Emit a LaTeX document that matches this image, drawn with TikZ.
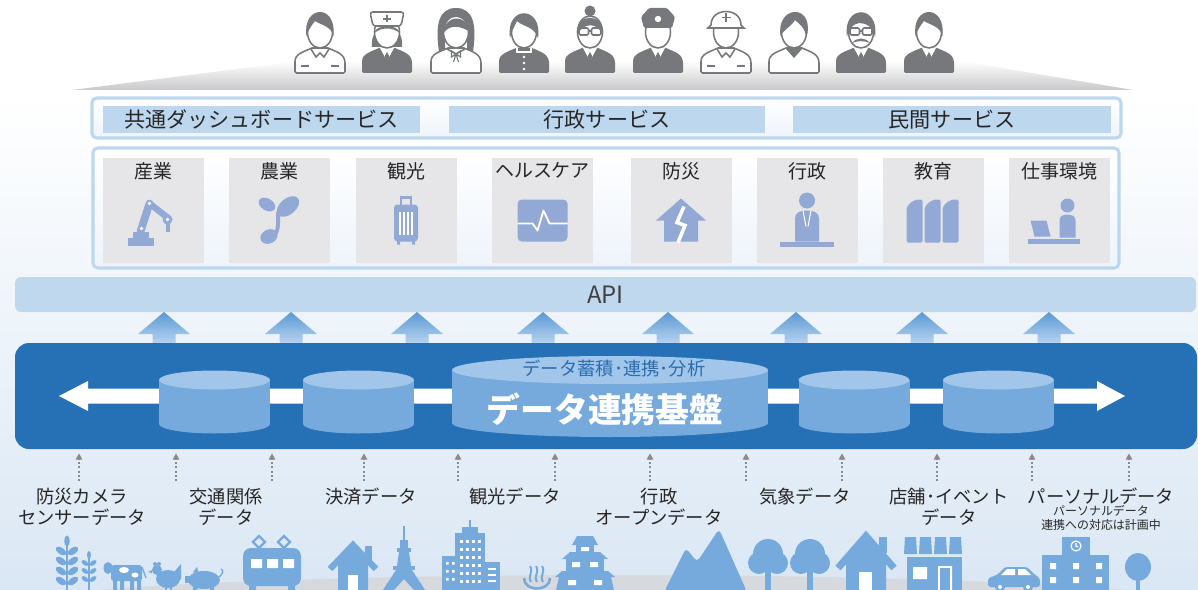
\documentclass[tikz,border=0pt]{standalone}
\usepackage{fontspec}
\setmainfont{Noto Sans CJK JP}
\usetikzlibrary{positioning, calc, arrows.meta}

\definecolor{txt}{HTML}{262626}
\definecolor{bgblue}{HTML}{DAE7F4}
\definecolor{boxtint}{HTML}{EEF4FB}
\definecolor{frameblue}{HTML}{BDD7EE}
\definecolor{barblue}{HTML}{BDD7EE}
\definecolor{tilegray}{HTML}{E6E6E9}
\definecolor{iconblue}{HTML}{93A9D5}
\definecolor{apiblue}{HTML}{BFD8EE}
\definecolor{apitext}{HTML}{404040}
\definecolor{platblue}{HTML}{2671B6}
\definecolor{cylside}{HTML}{76A9DC}
\definecolor{cyllid}{HTML}{A2C6E9}
\definecolor{cyltext}{HTML}{2A6CB0}
\definecolor{arrowtop}{HTML}{5B9AD5}
\definecolor{arrowbot}{HTML}{B6D2EE}
\definecolor{silblue}{HTML}{77AADC}
\definecolor{ground}{HTML}{D6D9DD}
\definecolor{ppl}{HTML}{77787B}
\definecolor{fangray}{HTML}{C9C9CB}
\definecolor{dotgray}{HTML}{8A8A8A}

\newlength\px
\setlength\px{0.25mm}

\begin{document}
\begin{tikzpicture}[
  x=0.25mm, y=-0.25mm,
  >=Latex,
  every node/.style={text=txt},
  outerbox/.style={draw=frameblue, line width=2.2pt, rounded corners=1.2mm, top color=white, bottom color=boxtint},
  svcbar/.style={fill=barblue, minimum height=27\px, inner sep=0pt, font=\fontsize{15}{17}\selectfont},
  tile/.style={fill=tilegray, minimum width=101\px, minimum height=105\px, inner sep=0pt},
  tilelabel/.style={font=\fontsize{13.5}{15}\selectfont},
  apibar/.style={fill=apiblue, rounded corners=1.5mm, minimum width=1181\px, minimum height=35\px, text=apitext, font=\fontsize{17}{19}\selectfont},
  platform/.style={fill=platblue, rounded corners=3.5mm, minimum width=1182\px, minimum height=106\px},
  uparrow/.style={top color=arrowtop, bottom color=arrowbot},
  dotarrow/.style={dotgray, line width=1.4pt, dash pattern=on 1.4pt off 1.6pt, shorten >=1mm, -{Triangle[length=4.5pt, width=4.5pt]}},
  srclabel/.style={anchor=north, align=center, inner sep=0pt, font=\fontsize{13}{15}\selectfont},
  sublabel/.style={anchor=north, align=center, inner sep=0pt, font=\fontsize{8.5}{10}\selectfont},
  sil/.style={fill=silblue},
  pplline/.style={draw=ppl, line width=1.1pt},
  % people parts
  pics/torso/.style={code={
    \path[#1] (-25,0) [rounded corners=1pt] -- (-25,-10) [sharp corners] .. controls (-25,-19) and (-17,-21) .. (-8,-25)
      -- (8,-25) .. controls (17,-21) and (25,-19) .. (25,-10) [rounded corners=1pt] -- (25,0) -- cycle;
  }},
  pics/shirt/.style={code={
    \fill[white] (-7,-25) -- (0,-12) -- (7,-25) -- cycle;
    \fill[ppl] (0,-21) -- (-2.2,-17) -- (0,-8) -- (2.2,-17) -- cycle;
  }},
  pics/face/.style={code={
    \draw[pplline, fill=white] (0,-41) ellipse [x radius=12.5, y radius=16];
  }},
  pics/hair/.style={code={
    \fill[ppl] (-13.5,-37) .. controls (-18,-68) and (17,-70) .. (13.5,-37) .. controls (11,-47) and (1,-48) .. (-5,-52)
      .. controls (-9,-47) and (-12,-42) .. (-13.5,-37) -- cycle;
  }},
  pics/glasses/.style={code={
    \draw[pplline, rounded corners=1pt] (-11,-45) rectangle (-1.5,-38) (1.5,-45) rectangle (11,-38) (-1.5,-42) -- (1.5,-42);
  }},
  % domain icons
  pics/robot/.style={code={
    \fill[iconblue] (-26,17) rectangle (0,25);
    \fill[iconblue] (-21,11) rectangle (-5,17);
    \draw[iconblue, line width=5.5pt, line cap=round] (-13,11) -- (-4,-17);
    \draw[iconblue, line width=4.5pt, line cap=round] (-4,-17) -- (14,-3);
    \fill[iconblue] (14,-1) circle [radius=5];
    \fill[iconblue] (12,3) rectangle (16,11);
    \fill[white] (-4,-17) circle [radius=1.8] (14,-1) circle [radius=1.8] (-12,8) circle [radius=1.8];
  }},
  pics/sprout/.style={code={
    \fill[iconblue, rotate around={-30:(-12,-16)}] (-12,-16) ellipse [x radius=9, y radius=6];
    \fill[iconblue, rotate around={40:(9,-14)}] (9,-14) ellipse [x radius=13, y radius=8];
    \draw[iconblue, line width=2.8pt] (-1,-9) .. controls (-1,0) and (0,6) .. (-3,13);
    \fill[iconblue, rotate around={25:(-10,16)}] (-10,16) ellipse [x radius=9, y radius=7];
  }},
  pics/suitcase/.style={code={
    \draw[iconblue, line width=1.6pt] (-5,-16) -- (-5,-23) -- (5,-23) -- (5,-16);
    \fill[iconblue, rounded corners=2.5pt] (-12,-16) rectangle (12,21);
    \draw[white, line width=0.8pt] (-6,-9) -- (-6,14) (-2,-9) -- (-2,14) (2,-9) -- (2,14) (6,-9) -- (6,14);
    \fill[iconblue] (-9,20) rectangle (-6,24) (6,20) rectangle (9,24);
  }},
  pics/monitor/.style={code={
    \fill[iconblue, rounded corners=3pt] (-25,-21) rectangle (25,21);
    \draw[white, line width=1.3pt, line join=round] (-25,3) -- (-10,3) -- (-5,10) -- (1,-10) -- (7,3) -- (25,3);
  }},
  pics/crackhouse/.style={code={
    \fill[iconblue] (-25,0) -- (0,-22) -- (25,0) -- (17,0) -- (17,21) -- (-17,21) -- (-17,0) -- cycle;
    \draw[white, line width=2.5pt] (3,-14) -- (-4,2) -- (4,5) -- (-3,22);
  }},
  pics/official/.style={code={
    \fill[iconblue] (0,-20) circle [radius=8];
    \fill[iconblue] (-12,21) -- (-12,-2) .. controls (-12,-8) and (-7,-10) .. (0,-10) .. controls (7,-10) and (12,-8) .. (12,-2) -- (12,21) -- cycle;
    \draw[white, line width=0.7pt] (-4,-10) -- (-1,6) (4,-10) -- (1,6);
    \fill[iconblue] (-27,21) rectangle (27,26);
  }},
  pics/books/.style={code={
    \foreach \a in {-27,-9,9}
      \fill[iconblue, rounded corners=1pt] (\a,22) -- (\a,-9) .. controls (\a,-15) and (\a+5,-20) .. (\a+12,-21) -- (\a+16,-21) -- (\a+16,22) -- cycle;
  }},
  pics/laptopuser/.style={code={
    \fill[iconblue] (8,-15) circle [radius=7];
    \fill[iconblue] (0,17) -- (0,0) .. controls (0,-4) and (3,-6) .. (8,-6) .. controls (13,-6) and (16,-4) .. (16,0) -- (16,17) -- cycle;
    \fill[iconblue] (-29,0) -- (-13,0) -- (-9,16) -- (-25,16) -- cycle;
    \fill[iconblue] (-32,18) rectangle (20,23);
  }}
]

\useasboundingbox (0,0) rectangle (1198,590);
\fill[white] (0,0) rectangle (1198,590);
\shade[top color=white, bottom color=bgblue] (0,95) rectangle (1198,590);

%------------------------------------------------
% People
%------------------------------------------------
\shade[top color=white, bottom color=fangray] (72,90) -- (300,61) -- (960,61) -- (1133,90) -- cycle;

% polo shirt
\begin{scope}[shift={(320,73)}]
  \pic at (0,0) {torso={draw=ppl, fill=white, line width=1.1pt}};
  \draw[pplline] (-9,-24) -- (-4,-16) -- (0,-20) -- (4,-16) -- (9,-24);
  \draw[pplline] (-19,-7) -- (-11,-7) (11,-7) -- (19,-7);
  \pic at (0,0) {face};
  \pic at (0,0) {hair};
\end{scope}

% nurse
\begin{scope}[shift={(387,73)}]
  \pic at (0,0) {torso={fill=ppl}};
  \pic at (0,0) {shirt};
  \fill[ppl] (-15,-26) .. controls (-18,-53) and (18,-53) .. (15,-26) -- cycle;
  \pic at (0,0) {face};
  \fill[ppl] (-12.5,-40) .. controls (-12,-49) and (12,-49) .. (12.5,-40) .. controls (6,-46) and (-6,-46) .. (-12.5,-40) -- cycle;
  \draw[pplline, fill=white, rounded corners=2pt] (-14,-47) -- (-17,-61) -- (17,-61) -- (14,-47) -- cycle;
  \draw[ppl, line width=1.5pt] (0,-58) -- (0,-50.5) (-3.7,-54.3) -- (3.7,-54.3);
\end{scope}

% girl
\begin{scope}[shift={(456,73)}]
  \pic at (0,0) {torso={draw=ppl, fill=white, line width=1.1pt}};
  \fill[ppl] (-17,-21) .. controls (-21,-49) and (-17,-65) .. (0,-65) .. controls (17,-65) and (21,-49) .. (17,-21)
    -- (11,-23) -- (11,-32) -- (-11,-32) -- (-11,-23) -- cycle;
  \pic at (0,0) {face};
  \fill[ppl] (-12.5,-40) .. controls (-12,-58) and (11,-60) .. (12.5,-42) .. controls (4,-47) and (-6,-49) .. (-12.5,-40) -- cycle;
  \draw[pplline] (-9,-24) -- (0,-19) -- (9,-24);
  \draw[ppl, line width=0.8pt] (0,-19) -- (-4.5,-22) -- (-4.5,-16) -- cycle (0,-19) -- (4.5,-22) -- (4.5,-16) -- cycle
    (0,-19) -- (-2.5,-11) (0,-19) -- (2.5,-11);
\end{scope}

% student
\begin{scope}[shift={(524,73)}]
  \pic at (0,0) {torso={fill=ppl}};
  \draw[white, line width=0.9pt] (-7,-25) -- (-7,-21) -- (7,-21) -- (7,-25);
  \fill[white] (0,-16) circle [radius=1.3] (0,-10) circle [radius=1.3] (0,-4) circle [radius=1.3];
  \pic at (0,0) {face};
  \fill[ppl] (-14,-35) .. controls (-19,-68) and (19,-68) .. (14,-35) .. controls (10,-47) and (-1,-46) .. (-7,-52)
    .. controls (-10,-46) and (-13,-40) .. (-14,-35) -- cycle;
\end{scope}

% woman with glasses
\begin{scope}[shift={(590,73)}]
  \pic at (0,0) {torso={fill=ppl}};
  \pic at (0,0) {shirt};
  \pic at (0,0) {face};
  \fill[ppl] (0,-62) circle [radius=5.5];
  \fill[ppl] (-13,-38) .. controls (-15,-61) and (15,-61) .. (13,-38) .. controls (7,-51) and (-6,-51) .. (-13,-38) -- cycle;
  \pic at (0,0) {glasses};
\end{scope}

% police officer
\begin{scope}[shift={(658,73)}]
  \pic at (0,0) {torso={fill=ppl}};
  \pic at (0,0) {shirt};
  \pic at (0,0) {face};
  \fill[ppl, rounded corners=1pt] (-14,-45) -- (-17,-56) -- (-9,-65) -- (9,-65) -- (17,-56) -- (14,-45) -- cycle;
  \fill[white] (0,-54) circle [radius=3.2];
\end{scope}

% worker with helmet
\begin{scope}[shift={(726,73)}]
  \pic at (0,0) {torso={draw=ppl, fill=white, line width=1.1pt}};
  \draw[pplline] (-9,-24) -- (-4,-16) -- (0,-20) -- (4,-16) -- (9,-24);
  \draw[pplline] (-19,-7) -- (-11,-7) (11,-7) -- (19,-7);
  \pic at (0,0) {face};
  \draw[pplline, fill=white] (-18,-45) -- (18,-45) -- (15,-48) .. controls (15,-66) and (-15,-66) .. (-15,-48) -- cycle;
  \draw[ppl, line width=1.4pt] (0,-60) -- (0,-51) (-4.5,-55.5) -- (4.5,-55.5);
\end{scope}

% young man
\begin{scope}[shift={(794,73)}]
  \pic at (0,0) {torso={draw=ppl, fill=white, line width=1.1pt}};
  \fill[ppl] (-8,-24) -- (0,-15) -- (8,-24) -- cycle;
  \pic at (0,0) {face};
  \fill[ppl] (-13.5,-37) .. controls (-18,-67) and (18,-70) .. (13.5,-40) -- (12,-36) .. controls (11,-46) and (5,-49) .. (1,-53)
    .. controls (-3,-46) and (-10,-44) .. (-13.5,-37) -- cycle;
\end{scope}

% man with moustache
\begin{scope}[shift={(861,73)}]
  \pic at (0,0) {torso={fill=ppl}};
  \pic at (0,0) {shirt};
  \pic at (0,0) {face};
  \fill[ppl] (-14,-36) .. controls (-19,-69) and (19,-69) .. (14,-36) .. controls (12,-47) and (4,-50) .. (-2,-50)
    .. controls (-8,-49) and (-13,-44) .. (-14,-36) -- cycle;
  \pic at (0,0) {glasses};
  \fill[ppl] (-9,-30) .. controls (-4,-36) and (4,-36) .. (9,-30) .. controls (3,-32.5) and (-3,-32.5) .. (-9,-30) -- cycle;
\end{scope}

% businessman
\begin{scope}[shift={(929,73)}]
  \pic at (0,0) {torso={fill=ppl}};
  \pic at (0,0) {shirt};
  \pic at (0,0) {face};
  \pic at (0,0) {hair};
\end{scope}

%------------------------------------------------
% Services
%------------------------------------------------
\node[outerbox, minimum width=1029\px, minimum height=40\px] (svcframe) at (606.5,118) {};
\node[svcbar, minimum width=317\px] (svc_common) at (261.5,119.5) {共通ダッシュボードサービス};
\node[svcbar, minimum width=316\px] (svc_gov) at (607,119.5) {行政サービス};
\node[svcbar, minimum width=318\px] (svc_private) at (952,119.5) {民間サービス};

%------------------------------------------------
% Domains
%------------------------------------------------
\node[outerbox, minimum width=1026\px, minimum height=120\px] (domframe) at (606,208) {};
\foreach \cx/\lbl/\ico [count=\i] in {153.5/産業/robot, 279/農業/sprout, 406/観光/suitcase, 542.5/ヘルスケア/monitor,
    681/防災/crackhouse, 807/行政/official, 933.5/教育/books, 1059.5/仕事環境/laptopuser} {
  \node[tile] (tile\i) at (\cx,210.5) {};
  \node[tilelabel, below=0pt of tile\i.north] (tile\i_lbl) {\lbl};
  \pic at ($(tile\i.center)+(0,10)$) {\ico};
}

%------------------------------------------------
% API
%------------------------------------------------
\node[apibar] (api) at (605.5,294.5) {API};

\foreach \x in {164,291,417,543,668,796,922,1049}
  \shade[uparrow] (\x,312) -- (\x+26,334) -- (\x+11.5,334) -- (\x+11.5,343) -- (\x-11.5,343) -- (\x-11.5,334) -- (\x-26,334) -- cycle;

%------------------------------------------------
% Data platform
%------------------------------------------------
\node[platform] (platform) at (606,396) {};

% data flow
\fill[white] (59,396) -- (88,381) -- (88,388.5) -- (1097,388.5) -- (1097,381) -- (1125,396) -- (1097,411)
  -- (1097,403.5) -- (88,403.5) -- (88,411) -- cycle;

% stores
\foreach \cx in {214.5,358.5,854,998.5} {
  \fill[cylside] (\cx-55.5,380) rectangle (\cx+55.5,424);
  \fill[cylside] (\cx,424) ellipse [x radius=55.5, y radius=9.5];
  \fill[cyllid] (\cx,380) ellipse [x radius=55.5, y radius=9.5];
}
\fill[cylside] (452,370) rectangle (768,423);
\fill[cylside] (610,423) ellipse [x radius=158, y radius=14];
\fill[cyllid] (610,370) ellipse [x radius=158, y radius=14];
\node[text=cyltext, font=\fontsize{13}{15}\selectfont] (hub_sub) at (614,368) {データ蓄積･連携･分析};
\node[text=white, font=\bfseries\fontsize{24}{26}\selectfont] (hub) at (605,409) {データ連携基盤};

%------------------------------------------------
% Data sources
%------------------------------------------------
\foreach \x [count=\i] in {79,176,272,364,458,555,650,746,842,937,1032,1129} {
  \coordinate (feed\i) at (\x,481);
  \draw[dotarrow] (feed\i) -- (feed\i |- platform.south);
}

\foreach \cx/\txt [count=\i] in {82/{防災カメラ\\センサーデータ}, 226/{交通関係\\データ}, 371/決済データ, 515/観光データ,
    659/{行政\\オープンデータ}, 805/気象データ, 949/{店舗･イベント\\データ}, 1101/パーソナルデータ}
  \node[srclabel] (src\i) at (\cx,488) {\txt};
\node[sublabel, below=0pt of src8] (src8_note) {パーソナルデータ\\連携への対応は計画中};

%------------------------------------------------
% Town
%------------------------------------------------
\fill[ground] (612,606) ellipse [x radius=600, y radius=31];

% wheat
\draw[silblue, line width=1.5pt] (67,542) -- (67,590) (89,556) -- (89,590);
\fill[silblue] (67,541) ellipse [x radius=2.8, y radius=5.5] (89,555) ellipse [x radius=2, y radius=4];
\foreach \y in {551,561,571,581} {
  \fill[silblue, rotate around={-35:(61,\y)}] (61,\y) ellipse [x radius=6, y radius=3.2];
  \fill[silblue, rotate around={35:(73,\y)}] (73,\y) ellipse [x radius=6, y radius=3.2];
}
\foreach \y in {563,571,579} {
  \fill[silblue, rotate around={-35:(85,\y)}] (85,\y) ellipse [x radius=4, y radius=2.2];
  \fill[silblue, rotate around={35:(93,\y)}] (93,\y) ellipse [x radius=4, y radius=2.2];
}

% cow
\fill[silblue, rounded corners=2pt] (111,565) rectangle (142,581);
\fill[silblue] (108,568) ellipse [x radius=4.5, y radius=6];
\fill[silblue] (113,580) rectangle (117,590) (120,580) rectangle (124,590) (130,580) rectangle (134,590) (137,580) rectangle (141,590);
\fill[white] (124,570) ellipse [x radius=5, y radius=3] (135,575) ellipse [x radius=3.5, y radius=2.5];
\draw[silblue, line width=1pt] (142,567) -- (146,578);

% hen
\fill[silblue] (168,579) ellipse [x radius=12, y radius=9];
\fill[silblue] (157,570) circle [radius=5];
\fill[silblue] (155,564) circle [radius=2] (159,564) circle [radius=2];
\fill[silblue] (152,570) -- (148,572) -- (152,573) -- cycle;
\fill[silblue] (174,572) -- (181,564) -- (181,580) -- cycle;
\draw[silblue, line width=1pt] (166,587) -- (166,590) (171,587) -- (171,590);

% pig
\fill[silblue] (204,580) ellipse [x radius=16, y radius=9];
\fill[silblue] (185,576) rectangle (190,583);
\fill[silblue] (193,572) -- (197,567) -- (199,574) -- cycle;
\fill[silblue] (193,585) rectangle (197,590) (210,585) rectangle (214,590);
\draw[silblue, line width=1pt] (219,577) .. controls (223,574) and (224,570) .. (221,569);

% train
\draw[silblue, line width=1.6pt] (259,536) -- (265,542) -- (259,548) -- (253,542) -- cycle
  (284,536) -- (290,542) -- (284,548) -- (278,542) -- cycle;
\fill[silblue, rounded corners=2mm] (243,548) rectangle (301,586);
\fill[white] (251,559) rectangle (262,568) (267,559) rectangle (278,568) (283,559) rectangle (294,568);
\fill[silblue] (249,584) rectangle (256,590) (288,584) rectangle (295,590);

% house
\fill[silblue] (365,546) rectangle (372,560);
\fill[silblue] (338,562) -- (353,548) -- (368,562) -- (368,590) -- (338,590) -- cycle;
\draw[silblue, line width=4.5pt] (330,569) -- (353,545) -- (376,569);
\fill[white] (348,575) rectangle (358,590);

% tower
\fill[silblue] (403,526) rectangle (405,541);
\fill[silblue] (400,540) rectangle (408,548);
\fill[silblue] (397,548) rectangle (411,552);
\fill[silblue] (399,552) -- (409,552) -- (411,566) -- (397,566) -- cycle;
\fill[silblue] (393,566) rectangle (415,570);
\fill[silblue] (396,570) -- (412,570) -- (425,590) -- (414,590) -- (404,579) -- (394,590) -- (383,590) -- cycle;

% office block
\fill[silblue] (469,520) rectangle (471,528);
\fill[silblue] (462,527) rectangle (478,534);
\fill[silblue] (455,533) rectangle (485,590);
\fill[silblue] (442,556) rectangle (458,590);
\fill[silblue] (484,562) rectangle (500,590);
\foreach \wx in {460,466,472,478}
  \foreach \wy in {540,548,556,564,572,580}
    \fill[white] (\wx,\wy) rectangle ++(2.6,2.6);
\foreach \wy in {568,574,580}
  \fill[white] (488,\wy) rectangle (496,\wy+1.5);
\foreach \wy in {562,570,578}
  \fill[white] (446,\wy) rectangle ++(2.6,2.6) (452,\wy) rectangle ++(2.6,2.6);

% hot spring
\draw[silblue, line width=1.8pt] (524,578) .. controls (524,592) and (550,592) .. (550,578);
\draw[silblue, line width=1.4pt] (531,582) .. controls (527,576) and (534,572) .. (530,566)
  (537,582) .. controls (533,576) and (540,572) .. (536,566)
  (543,582) .. controls (539,576) and (546,572) .. (542,566);

% castle
\fill[silblue] (572,545) -- (577,536) -- (593,536) -- (598,545) -- cycle;
\fill[silblue] (576,545) rectangle (594,553);
\fill[silblue] (562,559) -- (570,552) -- (600,552) -- (608,559) -- cycle;
\fill[silblue] (566,559) rectangle (604,571);
\fill[silblue] (555,577) -- (562,571) -- (608,571) -- (615,577) -- cycle;
\fill[silblue] (559,577) -- (611,577) -- (614,590) -- (556,590) -- cycle;
\fill[white] (581,547) rectangle (589,551) (572,562) rectangle (580,567) (590,562) rectangle (598,567)
  (568,580) rectangle (576,585) (594,580) rectangle (602,585);

% mountains
\fill[silblue, rounded corners=3pt] (664,592) -- (686,548) -- (697,562) -- (719,529) -- (747,592) -- cycle;

% trees
\foreach \tx in {768,810} {
  \fill[silblue] (\tx,554) circle [radius=15] (\tx-9,563) circle [radius=11] (\tx+9,563) circle [radius=11];
  \fill[silblue] (\tx-3,568) rectangle (\tx+3,590);
}

% house
\fill[silblue] (879,537) rectangle (887,553);
\fill[silblue] (846,562) -- (866,541) -- (886,562) -- (886,590) -- (846,590) -- cycle;
\draw[silblue, line width=5pt] (838,568) -- (866,536) -- (894,568);
\fill[white] (859,572) rectangle (872,590);

% shop
\foreach \s in {0,1,2,3}
  \fill[silblue] (905+\s*15,537) -- (916+\s*15,537) -- (917+\s*15,554) -- (904+\s*15,554) -- cycle;
\fill[silblue] (907,557) rectangle (962,590);
\fill[white] (913,567) rectangle (927,579) (938,566) rectangle (952,590);
\fill[silblue] (940,568) rectangle (950,590);

% car
\fill[silblue, rounded corners=2pt] (988,587) -- (988,578) -- (997,575) -- (1005,567) -- (1027,567) -- (1035,575) -- (1040,578) -- (1040,587) -- cycle;
\fill[white] (1007,569) -- (1015,569) -- (1015,575) -- (1001,575) -- cycle (1018,569) -- (1025,569) -- (1031,575) -- (1018,575) -- cycle;
\fill[silblue] (1000,587) circle [radius=5] (1028,587) circle [radius=5];
\fill[white] (1000,587) circle [radius=2] (1028,587) circle [radius=2];

% school
\fill[silblue] (1062,537) rectangle (1090,556);
\draw[white, line width=0.8pt] (1076,546) circle [radius=5] (1076,543) -- (1076,546) -- (1078,547);
\fill[silblue] (1042,555) rectangle (1109,590);
\foreach \wx in {1050,1073,1096}
  \fill[white] (\wx,563) rectangle ++(6,6) (\wx,577) rectangle ++(6,6);

% tree
\fill[silblue] (1138,567) ellipse [x radius=13, y radius=14];
\fill[silblue] (1136,575) rectangle (1140,590);

\end{tikzpicture}
\end{document}
